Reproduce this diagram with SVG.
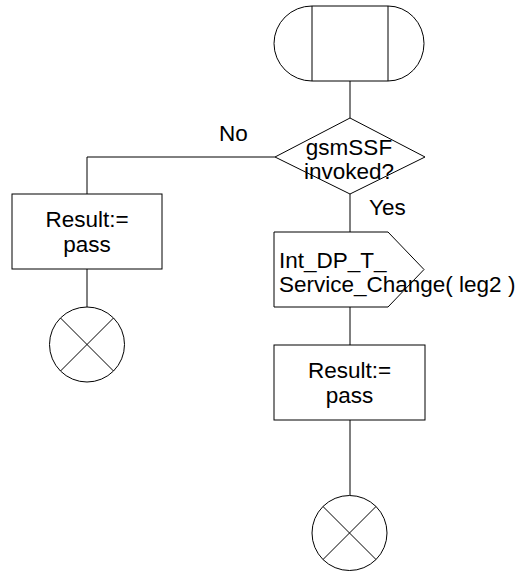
<svg xmlns="http://www.w3.org/2000/svg" width="520" height="571" viewBox="0 0 520 571">
<style>
.s{fill:#fff;stroke:#000;stroke-width:1}
.c{fill:none;stroke:#000;stroke-width:1}
text{font-family:"Liberation Sans",Arial,sans-serif;font-size:22.5px;fill:#000}
.m{text-anchor:middle}
</style>
<rect width="520" height="571" fill="#fff"/>
<g id="connectors">
<path class="c" d="M350,81 V118"/>
<path class="c" d="M350,194 V232"/>
<path class="c" d="M350,307 V345"/>
<path class="c" d="M350,420 V495.5"/>
<path class="c" d="M275,157 H87 V194"/>
<path class="c" d="M87,269 V307"/>
<text x="219" y="141">No</text>
<text x="369" y="215">Yes</text>
</g>
<g id="start">
<path class="s" d="M312,6 H388 A36,37.5 0 0 1 388,81 H312 A38,37.5 0 0 1 312,6 Z"/>
<path class="c" d="M312,6 V81 M388,6 V81"/>
</g>
<g id="decision">
<polygon class="s" points="350,118 425,157 350,194 275,157"/>
<text class="m" x="349" y="155">gsmSSF</text>
<text class="m" x="349" y="179">invoked?</text>
</g>
<g id="signal">
<polygon class="s" points="274,232 388,232 424,269.5 388,307 274,307"/>
<text x="279" y="268">Int_DP_T_</text>
<text x="279" y="292">Service_Change( leg2 )</text>
</g>
<g id="result_right">
<rect class="s" x="274" y="345" width="151" height="75"/>
<text class="m" x="349.5" y="378">Result:=</text>
<text class="m" x="349.5" y="403">pass</text>
</g>
<g id="stop_right">
<circle class="s" cx="349.5" cy="533" r="37.5"/>
<path class="c" d="M323,506.5 L376,559.5 M376,506.5 L323,559.5"/>
</g>
<g id="result_left">
<rect class="s" x="12" y="194" width="150" height="75"/>
<text class="m" x="87" y="227">Result:=</text>
<text class="m" x="87" y="252">pass</text>
</g>
<g id="stop_left">
<circle class="s" cx="87" cy="344.5" r="37.5"/>
<path class="c" d="M60.5,318 L113.5,371 M113.5,318 L60.5,371"/>
</g>
</svg>
